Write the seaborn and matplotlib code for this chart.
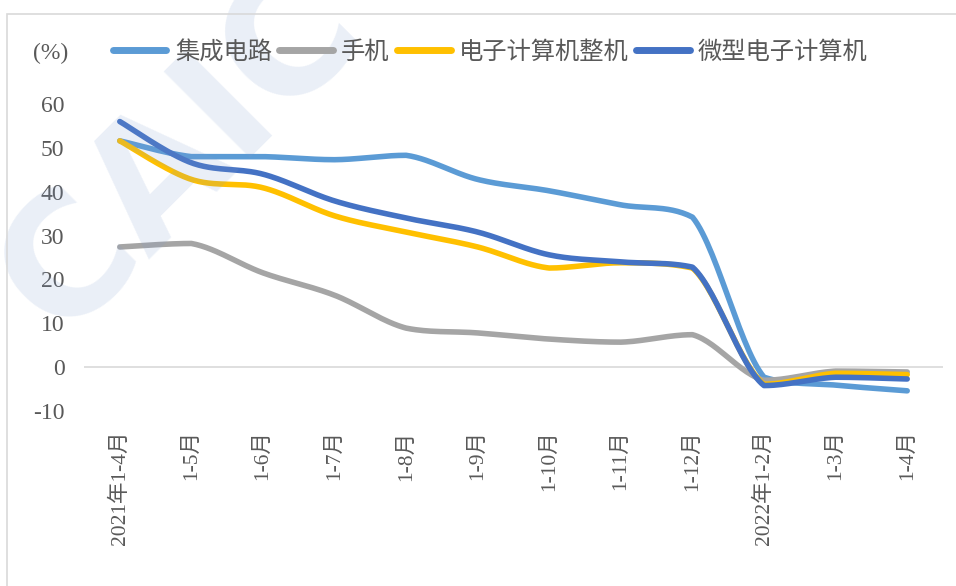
import numpy as np
import pandas as pd
import matplotlib
matplotlib.use("Agg")
import matplotlib.pyplot as plt
from matplotlib.patches import Rectangle
import seaborn as sns

# Datos (%)
meses = ['2021年1-4月', '1-5月', '1-6月', '1-7月', '1-8月', '1-9月', '1-10月',
         '1-11月', '1-12月', '2022年1-2月', '1-3月', '1-4月']
circuito = [51.6, 48.0, 48.0, 47.3, 48.3, 42.8, 40.2, 37.0, 34.2, -2.3, -4.1, -5.4]
movil = [27.4, 28.2, 21.5, 16.4, 8.9, 7.8, 6.4, 5.7, 7.4, -3.0, -0.9, -1.1]
computadora = [51.6, 42.8, 40.9, 34.5, 30.8, 27.4, 22.6, 23.8, 22.6, -3.9, -1.4, -1.7]
micro = [56.0, 46.6, 44.0, 37.9, 34.0, 30.8, 25.6, 24.0, 22.8, -4.2, -2.3, -2.7]

series = ['集成电路', '手机', '电子计算机整机', '微型电子计算机']
valores = [circuito, movil, computadora, micro]
colores = ['#5B9BD5', '#A5A5A5', '#FFC000', '#4472C4']


def suavizar(y, n=30):
    """Curva suavizada (Bezier) solo para dibujar, sin sobrepasar los puntos."""
    y = np.asarray(y, dtype=float)
    x = np.arange(len(y), dtype=float)
    p = np.column_stack([x, y])
    ext = np.vstack([p[0], p, p[-1]])
    xs, ys = [], []
    t = np.linspace(0, 1, n)[:, None]
    for i in range(len(p) - 1):
        p0, p1, p2, p3 = ext[i], ext[i + 1], ext[i + 2], ext[i + 3]
        c1 = p1 + (p2 - p0) / 6
        c2 = p2 - (p3 - p1) / 6
        lo, hi = min(p1[1], p2[1]), max(p1[1], p2[1])
        c1[1] = np.clip(c1[1], lo, hi)
        c2[1] = np.clip(c2[1], lo, hi)
        b = ((1 - t) ** 3) * p1 + 3 * ((1 - t) ** 2) * t * c1 + 3 * (1 - t) * t ** 2 * c2 + t ** 3 * p2
        xs.extend(b[:, 0])
        ys.extend(b[:, 1])
    return np.array(xs), np.array(ys)


sns.set_theme(style='white')
plt.rcParams['font.family'] = ['Liberation Serif', 'Noto Sans CJK SC', 'DejaVu Sans']

fig = plt.figure(figsize=(9.56, 5.86), dpi=100)
ax = fig.add_axes([84 / 956, 1 - 411 / 586, 859 / 956, 307 / 586])

# Marco exterior
fig.patches.append(Rectangle((7 / 956, -0.05), 1.0, 1 - 14 / 586 + 0.05,
                             transform=fig.transFigure, fill=False,
                             edgecolor='#D9D9D9', linewidth=1.2))

# Marca de agua
fig.text(0.19, 0.74, 'CAIC', rotation=45, fontsize=120, fontweight='bold',
         color='#7F9CCF', alpha=0.16, ha='center', va='center',
         family='DejaVu Sans', zorder=0)

ax.axhline(0, color='#D9D9D9', linewidth=1.2, zorder=1)

for nombre, v, c in zip(series, valores, colores):
    xs, ys = suavizar(v)
    d = pd.DataFrame({'x': xs, 'y': ys})
    sns.lineplot(data=d, x='x', y='y', color=c, sort=False, estimator=None,
                 linewidth=4, ax=ax, zorder=3, solid_capstyle='round')

ax.set_xlim(-0.5, len(meses) - 0.5)
ax.set_ylim(-10, 60)
ax.set_yticks(range(-10, 61, 10))
ax.set_yticklabels([str(v) for v in range(-10, 61, 10)], fontsize=17, color='#595959')
ax.set_xticks(range(len(meses)))
ax.set_xticklabels(meses, rotation=90, fontsize=15.5, color='#595959',
                   family=['Liberation Serif', 'Noto Sans CJK SC'])
ax.tick_params(axis='x', length=0, pad=14)
ax.tick_params(axis='y', length=0, pad=14)
ax.set_xlabel('')
ax.set_ylabel('')
sns.despine(ax=ax, left=True, bottom=True)
ax.patch.set_alpha(0)

fig.text(33 / 956, 1 - 53 / 586, '(%)', fontsize=17, color='#595959', va='center')

handles = [plt.Line2D([], [], color=c, linewidth=5, solid_capstyle='round') for c in colores]
fig.legend(handles, series, loc='center left', bbox_to_anchor=(113 / 956, 1 - 52 / 586),
           ncol=4, frameon=False, handlelength=2.2, handletextpad=0.35,
           columnspacing=0.3, borderaxespad=0, borderpad=0,
           prop={'family': 'Noto Sans CJK SC', 'size': 17.5}, labelcolor='#595959')

fig.savefig('out.png', dpi=100)
